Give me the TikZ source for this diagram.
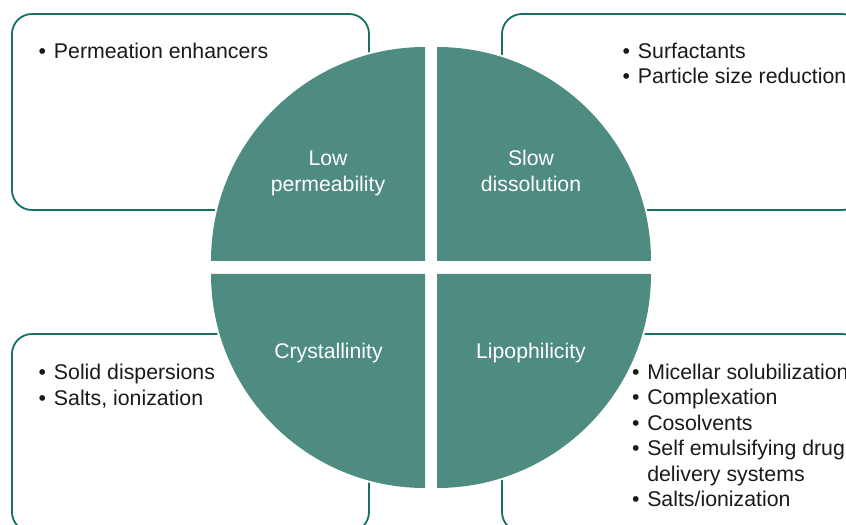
\documentclass[tikz,border=0pt]{standalone}
\usepackage{fontspec}
\setmainfont{Liberation Sans}
\definecolor{quadfill}{RGB}{78,140,129}
\definecolor{boxline}{RGB}{22,112,100}
\definecolor{txt}{RGB}{26,26,26}
\tikzset{
  panel/.style={draw=boxline, line width=1.8bp, rounded corners=20bp},
  item/.style={anchor=base west, inner sep=0pt, text=txt, font=\fontsize{21.3bp}{25bp}\selectfont},
  qlabel/.style={anchor=base, inner sep=0pt, text=white, font=\fontsize{21.2bp}{25bp}\selectfont},
  halo/.style={fill=white},
  quad/.style={fill=quadfill}
}
\newcommand{\bul}{\textbullet\hspace{7.8bp}}
\begin{document}
\begin{tikzpicture}[x=1bp,y=-1bp]
\useasboundingbox (0,0) rectangle (846,525);
\clip (0,0) rectangle (846,525);
\fill[white] (0,0) rectangle (846,525);
% panels
\draw[panel] (12,14) rectangle (369,210);
\draw[panel] (502,14) rectangle (862,210);
\draw[panel] (12,334) rectangle (369,532);
\draw[panel] (502,334) rectangle (862,532);
% quadrant centres
\coordinate (ctl) at (425,261);
\coordinate (ctr) at (437,261);
\coordinate (cbl) at (425,274);
\coordinate (cbr) at (437,274);
% white halos
\fill[halo] (ctl) -- ++(-216,0) arc[start angle=180,end angle=270,radius=216] -- cycle;
\fill[halo] (ctr) -- ++(0,-216) arc[start angle=270,end angle=360,radius=216] -- cycle;
\fill[halo] (cbl) -- ++(-216,0) arc[start angle=180,end angle=90,radius=216] -- cycle;
\fill[halo] (cbr) -- ++(216,0) arc[start angle=0,end angle=90,radius=216] -- cycle;
% quadrants
\fill[quad] (ctl) -- ++(-214,0) arc[start angle=180,end angle=270,radius=214] -- cycle;
\fill[quad] (ctr) -- ++(0,-214) arc[start angle=270,end angle=360,radius=214] -- cycle;
\fill[quad] (cbl) -- ++(-214,0) arc[start angle=180,end angle=90,radius=214] -- cycle;
\fill[quad] (cbr) -- ++(214,0) arc[start angle=0,end angle=90,radius=214] -- cycle;
% quadrant labels
\node[qlabel] (low1) at (328,166) {Low};
\node[qlabel] (low2) at (328,191.5) {permeability};
\node[qlabel] (slow1) at (531,166) {Slow};
\node[qlabel] (slow2) at (531,191.5) {dissolution};
\node[qlabel] (cry) at (328.5,358) {Crystallinity};
\node[qlabel] (lip) at (531,358) {Lipophilicity};
% lists
\node[item] (pe) at (38.5,58.5) {\bul Permeation enhancers};
\node[item] (su) at (622.5,58.5) {\bul Surfactants};
\node[item] (ps) at (622.5,83.5) {\bul Particle size reduction};
\node[item] (sd) at (38.5,379.5) {\bul Solid dispersions};
\node[item] (si) at (38.5,405.5) {\bul Salts, ionization};
\node[item] (ms) at (631.8,379) {\bul Micellar solubilization};
\node[item] (co) at (631.8,404.5) {\bul Complexation};
\node[item] (cs) at (631.8,430) {\bul Cosolvents};
\node[item] (se) at (631.8,455.5) {\bul Self emulsifying drug};
\node[item] (dd) at (631.8,481) {\phantom{\textbullet}\hspace{7.8bp}delivery systems};
\node[item] (sl) at (631.8,506.5) {\bul Salts/ionization};
\end{tikzpicture}
\end{document}
